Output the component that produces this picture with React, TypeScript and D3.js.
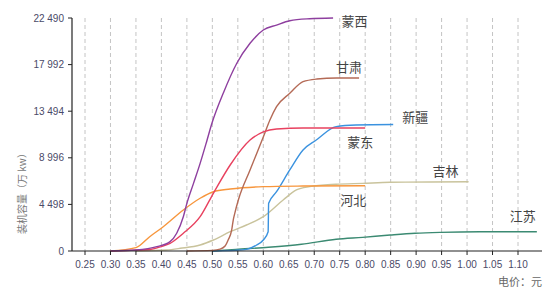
import React from "react";
import * as d3 from "d3";

const xTicks = [0.25, 0.3, 0.35, 0.4, 0.45, 0.5, 0.55, 0.6, 0.65, 0.7, 0.75, 0.8, 0.85, 0.9, 0.95, 1.0, 1.05, 1.1];
const yTicks = [0, 4498, 8996, 13494, 17992, 22490];
const yTickLabels = ["0", "4 498", "8 996", "13 494", "17 992", "22 490"];

const mengxiPrice = [0.30, 0.35, 0.391, 0.417, 0.43, 0.443, 0.45, 0.463, 0.476, 0.489, 0.499, 0.522, 0.548, 0.574, 0.60, 0.626, 0.652, 0.691, 0.737];
const mengxiCap = [0, 100, 415, 900, 1710, 3310, 4600, 6530, 8460, 10600, 12300, 15300, 18120, 20050, 21330, 21810, 22230, 22420, 22490];

const gansuPrice = [0.45, 0.50, 0.515, 0.525, 0.531, 0.538, 0.541, 0.544, 0.551, 0.574, 0.60, 0.613, 0.626, 0.652, 0.678, 0.705, 0.744, 0.788];
const gansuCap = [0, 60, 180, 480, 1060, 2030, 2990, 3640, 4920, 7820, 11000, 12640, 13930, 15220, 16340, 16600, 16700, 16700];

const mengdongPrice = [0.30, 0.35, 0.378, 0.40, 0.417, 0.443, 0.476, 0.502, 0.535, 0.574, 0.60, 0.626, 0.678, 0.80];
const mengdongCap = [0, 80, 150, 430, 740, 1710, 3310, 5570, 8300, 10710, 11490, 11780, 11870, 11870];

const hebeiPrice = [0.30, 0.35, 0.377, 0.403, 0.443, 0.476, 0.502, 0.535, 0.60, 0.678, 0.80];
const hebeiCap = [0, 320, 1380, 2320, 3960, 5090, 5720, 5980, 6210, 6270, 6300];

const jilinPrice = [0.35, 0.41, 0.437, 0.476, 0.502, 0.535, 0.567, 0.60, 0.639, 0.665, 0.691, 0.743, 0.795, 0.849, 0.927, 1.003];
const jilinCap = [0, 100, 260, 580, 1060, 1860, 2510, 3310, 4920, 5890, 6210, 6440, 6530, 6630, 6660, 6690];

const xinjiangPrice = [0.50, 0.545, 0.567, 0.587, 0.60, 0.6095, 0.6105, 0.626, 0.652, 0.678, 0.704, 0.743, 0.782, 0.855];
const xinjiangCap = [0, 60, 160, 580, 1060, 1860, 4600, 5720, 7820, 9750, 10710, 12000, 12160, 12210];

const jiangsuPrice = [0.50, 0.546, 0.61, 0.675, 0.743, 0.795, 0.849, 0.898, 0.947, 1.025, 1.137];
const jiangsuCap = [0, 160, 360, 650, 1130, 1320, 1540, 1710, 1800, 1860, 1860];

const W = 551;
const H = 290;

export default function App() {
  const x = d3.scaleLinear().domain([0.25, 1.1]).range([85, 518]);
  const y = d3.scaleLinear().domain([0, 22490]).range([251, 18]);
  const axisLeft = 72;
  const axisRight = 542;

  const series = [
    { name: "江苏", px: jiangsuPrice, cy: jiangsuCap, color: "#3b8a72", dx: -27, dy: -16.5 },
    { name: "吉林", px: jilinPrice, cy: jilinCap, color: "#c9c39c", dx: -36, dy: -11 },
    { name: "新疆", px: xinjiangPrice, cy: xinjiangCap, color: "#3a92df", dx: 9, dy: -8.5 },
    { name: "河北", px: hebeiPrice, cy: hebeiCap, color: "#f7963d", dx: -25, dy: 13.5 },
    { name: "甘肃", px: gansuPrice, cy: gansuCap, color: "#b46a56", dx: -23, dy: -11 },
    { name: "蒙东", px: mengdongPrice, cy: mengdongCap, color: "#e8415f", dx: -18, dy: 13.5 },
    { name: "蒙西", px: mengxiPrice, cy: mengxiCap, color: "#8e3f9f", dx: 8.5, dy: 2 },
  ];

  const line = d3
    .line<[number, number]>()
    .x((d) => x(d[0]))
    .y((d) => y(d[1]))
    .curve(d3.curveMonotoneX);

  const tickFont = "'Liberation Sans', 'DejaVu Sans', sans-serif";
  const cjkFont = "'Noto Sans CJK SC', sans-serif";

  return (
    <svg width={W} height={H} style={{ position: "absolute", left: 0, top: 0, background: "#fff" }}>
      {xTicks.map((t) => (
        <line key={"g" + t} x1={x(t)} x2={x(t)} y1={y(22490)} y2={y(0)} stroke="#b5b5b5" strokeWidth={0.8} strokeDasharray="4,3" />
      ))}
      {series.map((s) => {
        const pts: [number, number][] = s.px.map((p, i) => [p, s.cy[i]]);
        return <path key={s.name} d={line(pts) || ""} fill="none" stroke={s.color} strokeWidth={1.4} />;
      })}
      {series.map((s) => {
        const n = s.px.length - 1;
        return (
          <text
            key={"l" + s.name}
            x={x(s.px[n]) + s.dx}
            y={y(s.cy[n]) + s.dy}
            dominantBaseline="central"
            fontFamily={cjkFont}
            fontSize={13}
            fill="#444"
          >
            {s.name}
          </text>
        );
      })}
      <line x1={axisLeft} x2={axisLeft} y1={y(22490)} y2={y(0)} stroke="#222" strokeWidth={1.2} />
      <line x1={axisLeft} x2={axisRight} y1={y(0)} y2={y(0)} stroke="#222" strokeWidth={1.2} />
      {yTicks.map((t, i) => (
        <g key={"y" + t}>
          <line x1={axisLeft - 4} x2={axisLeft} y1={y(t)} y2={y(t)} stroke="#222" strokeWidth={1} />
          <text x={axisLeft - 8} y={y(t)} textAnchor="end" dominantBaseline="central" fontFamily={tickFont} fontSize={10} fill="#4a4a68">
            {yTickLabels[i]}
          </text>
        </g>
      ))}
      {xTicks.map((t) => (
        <g key={"x" + t}>
          <line x1={x(t)} x2={x(t)} y1={y(0)} y2={y(0) + 4} stroke="#222" strokeWidth={1} />
          <text x={x(t)} y={y(0) + 13} textAnchor="middle" dominantBaseline="central" fontFamily={tickFont} fontSize={10} fill="#4a4a68">
            {t.toFixed(2)}
          </text>
        </g>
      ))}
      <text x={axisRight} y={281} textAnchor="end" dominantBaseline="central" fontFamily={cjkFont} fontSize={11} fill="#666">
        电价：元
      </text>
      <text
        transform={`translate(21,191) rotate(-90)`}
        textAnchor="middle"
        dominantBaseline="central"
        fontFamily={cjkFont}
        fontSize={10}
        fill="#777"
      >
        装机容量（万 kw）
      </text>
    </svg>
  );
}
